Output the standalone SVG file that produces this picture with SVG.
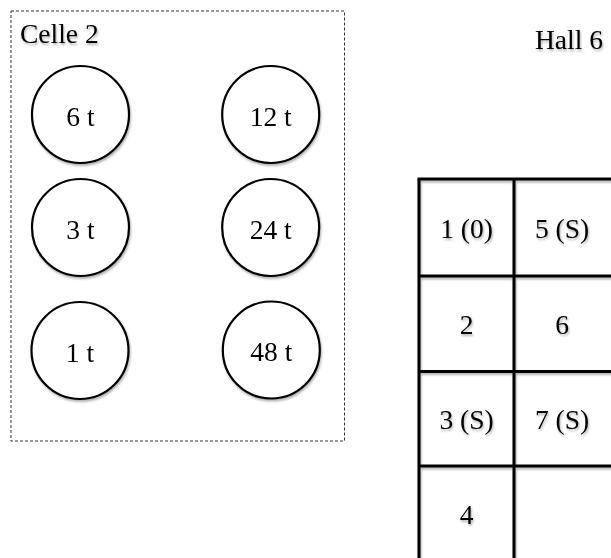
<svg xmlns="http://www.w3.org/2000/svg" width="611" height="558" viewBox="0 0 611 558">
  <defs>
    <filter id="shadow" x="-10%" y="-10%" width="130%" height="130%">
      <feDropShadow dx="1" dy="2" stdDeviation="1" flood-color="#000" flood-opacity="0.3"/>
    </filter>
  </defs>
  <style>
    .lbl { font-family: "Liberation Serif", "Times New Roman", serif; font-size: 27.5px; fill: #000; }
    .mid { text-anchor: middle; }
    .well { fill: #fff; stroke: #000; stroke-width: 2.2; }
    .frame { fill: none; stroke: #333; stroke-width: 1; stroke-dasharray: 3 2; }
    .grid { stroke: #000; stroke-width: 3; fill: none; }
  </style>
  <rect width="611" height="558" fill="#fff"/>

  <!-- Cell 2 enclosure -->
  <g id="celle2">
    <rect class="frame" x="11" y="11" width="333.5" height="430"/>
    <text class="lbl" x="20" y="42.5" filter="url(#shadow)">Celle 2</text>
  </g>

  <!-- time-point wells -->
  <g filter="url(#shadow)">
    <g id="t6"><circle class="well" cx="80.5" cy="114.5" r="48.5"/><text class="lbl mid" x="80.5" y="125.5">6 t</text></g>
    <g id="t12"><circle class="well" cx="270.7" cy="114.5" r="48.5"/><text class="lbl mid" x="270.7" y="125.5">12 t</text></g>
    <g id="t3"><circle class="well" cx="80.5" cy="227.5" r="48.5"/><text class="lbl mid" x="80.5" y="238.5">3 t</text></g>
    <g id="t24"><circle class="well" cx="270.7" cy="227.5" r="48.5"/><text class="lbl mid" x="270.7" y="238.5">24 t</text></g>
    <g id="t1"><circle class="well" cx="80" cy="350.5" r="48.5"/><text class="lbl mid" x="80" y="361.5">1 t</text></g>
    <g id="t48"><circle class="well" cx="271.3" cy="350" r="48.5"/><text class="lbl mid" x="271.3" y="361">48 t</text></g>
  </g>

  <!-- Hall 6 layout -->
  <g id="hall6" filter="url(#shadow)">
    <text class="lbl" x="535" y="49">Hall 6</text>
    <g class="grid">
      <line x1="417.5" y1="179" x2="615" y2="179"/>
      <line x1="419" y1="179" x2="419" y2="562"/>
      <line x1="514" y1="179" x2="514" y2="562"/>
      <line x1="419" y1="276" x2="615" y2="276"/>
      <line x1="419" y1="371.5" x2="615" y2="371.5"/>
      <line x1="419" y1="466" x2="615" y2="466"/>
    </g>
    <g id="bay1"><text class="lbl mid" x="466.5" y="238">1 (0)</text></g>
    <g id="bay5"><text class="lbl mid" x="562" y="238">5 (S)</text></g>
    <g id="bay2"><text class="lbl mid" x="466.5" y="334">2</text></g>
    <g id="bay6"><text class="lbl mid" x="562" y="334">6</text></g>
    <g id="bay3"><text class="lbl mid" x="466.5" y="429">3 (S)</text></g>
    <g id="bay7"><text class="lbl mid" x="562" y="429">7 (S)</text></g>
    <g id="bay4"><text class="lbl mid" x="466.5" y="524">4</text></g>
  </g>
</svg>
